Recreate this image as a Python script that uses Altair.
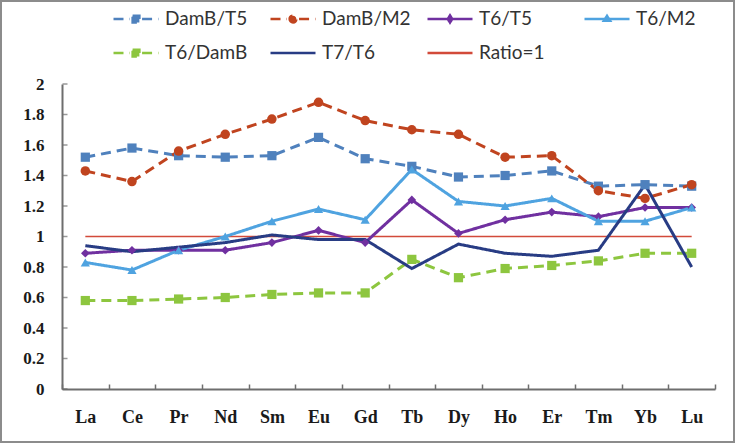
import altair as alt
import pandas as pd

elements = ["La", "Ce", "Pr", "Nd", "Sm", "Eu", "Gd", "Tb", "Dy", "Ho", "Er", "Tm", "Yb", "Lu"]
series_names = ["DamB/T5", "DamB/M2", "T6/T5", "T6/M2", "T6/DamB", "T7/T6", "Ratio=1"]

damb_t5 = [1.52, 1.58, 1.53, 1.52, 1.53, 1.65, 1.51, 1.46, 1.39, 1.40, 1.43, 1.33, 1.34, 1.33]
damb_m2 = [1.43, 1.36, 1.56, 1.67, 1.77, 1.88, 1.76, 1.70, 1.67, 1.52, 1.53, 1.30, 1.25, 1.34]
t6_t5 = [0.89, 0.91, 0.91, 0.91, 0.96, 1.04, 0.96, 1.24, 1.02, 1.11, 1.16, 1.13, 1.19, 1.19]
t6_m2 = [0.83, 0.78, 0.91, 1.00, 1.10, 1.18, 1.11, 1.44, 1.23, 1.20, 1.25, 1.10, 1.10, 1.19]
t6_damb = [0.58, 0.58, 0.59, 0.60, 0.62, 0.63, 0.63, 0.85, 0.73, 0.79, 0.81, 0.84, 0.89, 0.89]
t7_t6 = [0.94, 0.90, 0.93, 0.96, 1.01, 0.98, 0.98, 0.79, 0.95, 0.89, 0.87, 0.91, 1.34, 0.80]
ratio_1 = [1, 1, 1, 1, 1, 1, 1, 1, 1, 1, 1, 1, 1, 1]

y_ticks = [0, 0.2, 0.4, 0.6, 0.8, 1, 1.2, 1.4, 1.6, 1.8, 2]

colors = ["#4F81BD", "#C0441F", "#7030A0", "#4FA3E0", "#8DC63F", "#283C84", "#D24A3A"]
dashes = [[10, 6], [10, 6], [1, 0], [1, 0], [10, 6], [1, 0], [1, 0]]

# legend symbols: line segment + marker (custom unit paths)
seg_dash = "M-1,0H-0.27M0.27,0H1"
sq = "M-0.15,-0.15H0.15V0.15H-0.15ZM-0.06,-0.06H0.06V0.06H-0.06Z"
circ = "M-0.15,0A0.15,0.15,0,1,0,0.15,0A0.15,0.15,0,1,0,-0.15,0ZM-0.06,0A0.06,0.06,0,1,0,0.06,0A0.06,0.06,0,1,0,-0.06,0Z"
legend_paths = [
    seg_dash + sq,
    seg_dash + circ,
    "M-1,0H1M0,-0.16L0.1,0L0,0.16L-0.1,0Z",
    "M-1,0H1M-0.14,0.08L0,-0.14L0.14,0.08Z",
    seg_dash + sq,
    "M-1,0H1",
    "M-1,0H1",
]

all_values = [damb_t5, damb_m2, t6_t5, t6_m2, t6_damb, t7_t6, ratio_1]
rows = []
for name, vals in zip(series_names, all_values):
    for el, v in zip(elements, vals):
        rows.append({"series": name, "el": el, "value": v})
df = pd.DataFrame(rows)

axis_grey = "#6e6e6e"
x_enc = alt.X(
    "el:N",
    sort=elements,
    scale=alt.Scale(type="band", domain=elements, paddingInner=0, paddingOuter=0),
    axis=alt.Axis(
        title=None, labelAngle=0, tickBand="extent", tickSize={"expr": "-5"},
        labelFont="Liberation Serif", labelFontWeight="bold", labelFontSize=18,
        labelColor="#1a1a1a", labelPadding=24, domainColor=axis_grey, domainWidth=2,
        tickColor=axis_grey, tickWidth=1.5, grid=False,
    ),
)
y_scale = alt.Scale(domain=[0, 2], nice=False, zero=True)
y_axis = alt.Axis(
    title=None, values=y_ticks, format="~g", ticks=False,
    labelFont="Liberation Serif", labelFontWeight="bold", labelFontSize=17,
    labelColor="#1a1a1a", labelPadding=18, domainColor=axis_grey, domainWidth=2,
    grid=False,
)
y_enc = alt.Y("value:Q", scale=y_scale, axis=y_axis)
color_scale = alt.Scale(domain=series_names, range=colors)

base = alt.Chart(df)

leg = alt.Legend(
    orient="none", legendX=50, legendY=-75, columns=4, direction="horizontal", title=None,
    symbolSize=2025, symbolStrokeWidth=2.5, symbolOpacity=1,
    labelFont="Lato", labelFontSize=19, labelColor="#333333", labelOffset=5,
    columnPadding=15, rowPadding=14, clipHeight=20, gridAlign="all",
)
legend_layer = base.mark_point(filled=False, opacity=0, strokeWidth=2.5).encode(
    x=x_enc, y=y_enc,
    color=alt.Color("series:N", scale=color_scale, legend=leg),
    shape=alt.Shape("series:N", scale=alt.Scale(domain=series_names, range=legend_paths), legend=leg),
)

lines = base.transform_filter(
    alt.datum.series != "Ratio=1"
).mark_line(strokeWidth=3).encode(
    x=x_enc, y=y_enc,
    color=alt.Color("series:N", scale=color_scale, legend=None),
    strokeDash=alt.StrokeDash("series:N", scale=alt.Scale(domain=series_names, range=dashes), legend=None),
)

ratio_line = base.transform_filter(
    alt.datum.series == "Ratio=1"
).mark_line(strokeWidth=1.3).encode(
    x=x_enc, y=y_enc,
    color=alt.Color("series:N", scale=color_scale, legend=None),
)

def pts(names, shape, size=80):
    return base.transform_filter(
        alt.FieldOneOfPredicate(field="series", oneOf=names)
    ).mark_point(shape=shape, filled=True, size=size, opacity=1).encode(
        x=x_enc, y=y_enc,
        color=alt.Color("series:N", scale=color_scale, legend=None),
    )

pts_sq = pts(["DamB/T5", "T6/DamB"], "square", 85)
pts_ci = pts(["DamB/M2"], "circle", 90)
pts_di = pts(["T6/T5"], "diamond", 75)
pts_tr = pts(["T6/M2"], "triangle-up", 85)

# inward y-axis tick marks
yticks_layer = alt.Chart(pd.DataFrame({"value": y_ticks})).mark_tick(
    orient="horizontal", size=5, thickness=1.5, color=axis_grey
).encode(y=y_enc, x=alt.value(3))

frame = alt.Chart(pd.DataFrame({"a": [0]})).mark_rect(
    fillOpacity=0, stroke="#8c8c8c", strokeWidth=2
).encode(
    x=alt.value(-61), x2=alt.value(672), y=alt.value(-83), y2=alt.value(358)
)

chart = alt.layer(
    legend_layer, frame, yticks_layer, ratio_line, lines, pts_sq, pts_ci, pts_di, pts_tr
).properties(
    width=653, height=305,
    padding={"left": 62, "top": 84, "right": 25, "bottom": 59},
    autosize=alt.AutoSizeParams(type="none"),
    background="white",
).configure_view(stroke="transparent")

chart.save("out.html", embed_options={"renderer": "svg", "actions": False})
